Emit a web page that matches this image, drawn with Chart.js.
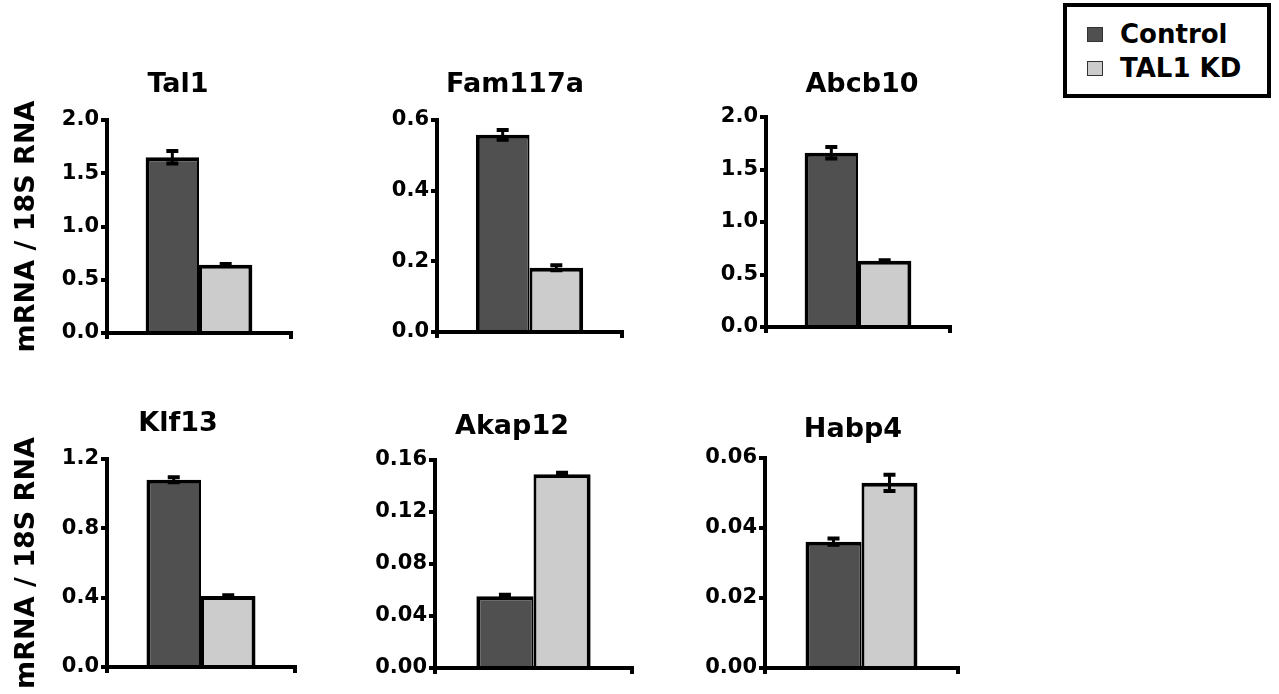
<!DOCTYPE html>
<html>
<head>
<meta charset="utf-8">
<script src="https://cdn.jsdelivr.net/npm/chart.js@4.4.1/dist/chart.umd.min.js"></script>
<style>
  body { margin: 0; background: #fff; width: 1279px; height: 694px; overflow: hidden; position: relative;
         font-family: "DejaVu Sans", sans-serif; font-weight: bold; }
  canvas { position: absolute; }
  #legend { position: absolute; left: 1063px; top: 3px; width: 200px; height: 87px; border: 4px solid #000; background: #fff; }
  .item { position: absolute; left: 0; height: 30px; line-height: 30px; font-size: 26px; color: #000; white-space: nowrap; }
  .sw { position: absolute; left: 20px; top: 8px; width: 14px; height: 13px; border: 1px solid #333; }
  .lab { position: absolute; left: 53px; top: 0; }
</style>
</head>
<body>
<div id="legend"></div>
<script>
// genes, one small panel each
const genes = ['Tal1', 'Fam117a', 'Abcb10', 'Klf13', 'Akap12', 'Habp4'];
const seriesNames = ['Control', 'TAL1 KD'];

const control    = [1.65, 0.558, 1.66, 1.08, 0.0552, 0.0361];
const controlErr = [0.058, 0.014, 0.055, 0.014, 0.0012, 0.0009];
const kd         = [0.64, 0.182, 0.63, 0.41, 0.149, 0.0529];
const kdErr      = [0.008, 0.007, 0.006, 0.004, 0.0012, 0.0023];

// y axis for each panel
const yMax = [2, 0.6, 2, 1.2, 0.16, 0.06];
const yStep = [0.5, 0.2, 0.5, 0.4, 0.04, 0.02];
const yDecimals = [1, 1, 1, 1, 2, 2];
const yTitle = 'mRNA / 18S RNA';

const colors = ['#505050', '#cccccc'];

Chart.defaults.font.family = 'DejaVu Sans';
Chart.defaults.color = '#000';

// where each panel sits on the page
const panels = [
  { axisX: 107, top: 120, zero: 333, right: 291, titleX: 178, titleY: 85 },
  { axisX: 437, top: 120, zero: 332, right: 622, titleX: 515, titleY: 85 },
  { axisX: 766, top: 117, zero: 327, right: 950, titleX: 862, titleY: 85 },
  { axisX: 107, top: 459, zero: 667, right: 295, titleX: 178, titleY: 424 },
  { axisX: 435, top: 460, zero: 668, right: 632, titleX: 512, titleY: 427 },
  { axisX: 765, top: 458, zero: 668, right: 958, titleX: 853, titleY: 430 }
];

// error bars drawn with the y scale of each chart
const errorBars = {
  id: 'errorBars',
  afterDatasetsDraw(chart) {
    const ctx = chart.ctx;
    const y = chart.scales.y;
    chart.data.datasets.forEach((ds, d) => {
      chart.getDatasetMeta(d).data.forEach((bar, k) => {
        const v = ds.data[k], e = ds.err[k];
        const hi = y.getPixelForValue(v + e);
        const lo = y.getPixelForValue(v - e);
        ctx.save();
        ctx.strokeStyle = '#000';
        ctx.lineWidth = 3;
        ctx.beginPath();
        ctx.moveTo(bar.x, hi);
        ctx.lineTo(bar.x, lo);
        ctx.stroke();
        ctx.lineWidth = 4;
        ctx.beginPath();
        ctx.moveTo(bar.x - 6, hi); ctx.lineTo(bar.x + 6, hi);
        ctx.moveTo(bar.x - 6, lo); ctx.lineTo(bar.x + 6, lo);
        ctx.stroke();
        ctx.restore();
      });
    });
  }
};

panels.forEach((p, i) => {
  const left = (i % 3 === 0) ? 0 : p.axisX - 70;
  const yWidth = p.axisX - left;
  const w = Math.round(2 * (p.titleX - left));
  const padRight = w - (p.right - left);
  const titleH = 27 * 1.2;
  const top = Math.round(p.titleY - titleH / 2);
  const h = p.zero + 20 - top;

  const cv = document.createElement('canvas');
  cv.width = w;
  cv.height = h;
  cv.style.left = left + 'px';
  cv.style.top = top + 'px';
  document.body.appendChild(cv);

  new Chart(cv, {
    type: 'bar',
    data: {
      labels: [genes[i]],
      datasets: [{
        label: seriesNames[0],
        data: [control[i]],
        err: [controlErr[i]],
        backgroundColor: colors[0],
        borderColor: '#000',
        borderWidth: { top: 4, left: 4, right: 2, bottom: 0 },
        categoryPercentage: 0.58,
        barPercentage: 1
      }, {
        label: seriesNames[1],
        data: [kd[i]],
        err: [kdErr[i]],
        backgroundColor: colors[1],
        borderColor: '#000',
        borderWidth: { top: 4, left: 3, right: 4, bottom: 0 },
        categoryPercentage: 0.58,
        barPercentage: 1
      }]
    },
    options: {
      responsive: false,
      animation: false,
      layout: { padding: 0 },
      plugins: {
        legend: { display: false },
        tooltip: { enabled: false },
        title: {
          display: true,
          text: genes[i],
          color: '#000',
          font: { size: 27, weight: 'bold' },
          padding: { top: 0, bottom: p.top - top - titleH }
        }
      },
      scales: {
        x: {
          afterFit: s => { s.height = 20; },
          border: { color: '#000', width: 4, z: 1 },
          grid: { drawOnChartArea: false, drawTicks: true, tickLength: 6, lineWidth: 4, color: '#000', offset: true },
          ticks: { display: false }
        },
        y: {
          min: 0,
          max: yMax[i],
          afterFit: s => { s.width = yWidth; },
          border: { color: '#000', width: 4, z: 1 },
          grid: { drawOnChartArea: false, drawTicks: true, tickLength: 6, lineWidth: 4, color: '#000' },
          ticks: {
            stepSize: yStep[i],
            padding: 2,
            color: '#000',
            font: { size: 21, weight: 'bold' },
            callback: v => Number(v).toFixed(yDecimals[i])
          },
          title: {
            display: i % 3 === 0,
            text: yTitle,
            color: '#000',
            font: { size: 27, weight: 'bold' },
            padding: { top: 11, bottom: 0 }
          }
        },
        // empty space on the right so the panel title centres where it should
        pad: {
          type: 'linear',
          position: 'right',
          afterFit: s => { s.width = padRight; },
          border: { display: false },
          grid: { display: false },
          ticks: { display: false }
        }
      }
    },
    plugins: [errorBars]
  });
});

// legend box
const legend = document.getElementById('legend');
seriesNames.forEach((name, k) => {
  const row = document.createElement('div');
  row.className = 'item';
  row.style.top = (12 + k * 34) + 'px';
  row.innerHTML = '<span class="sw" style="background:' + colors[k] + '"></span><span class="lab">' + name + '</span>';
  legend.appendChild(row);
});
</script>
</body>
</html>
